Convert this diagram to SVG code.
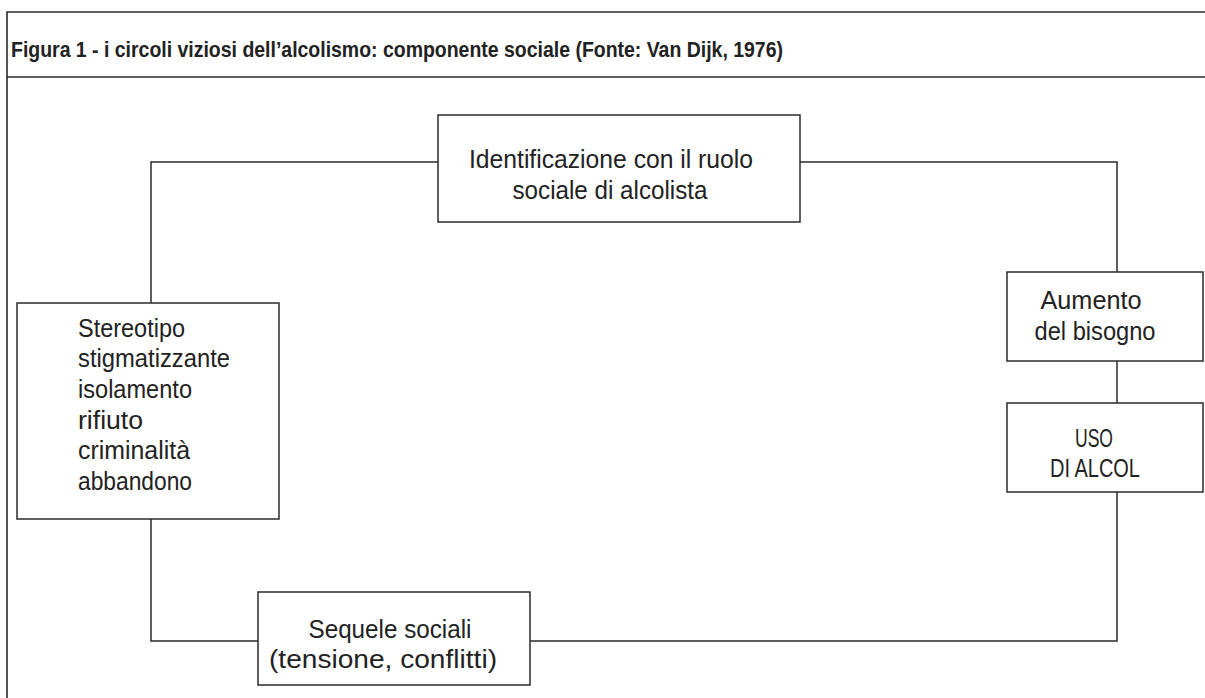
<svg xmlns="http://www.w3.org/2000/svg" width="1205" height="698" viewBox="0 0 1205 698">
<style>
.frame{fill:none;stroke:#2b2b2b;stroke-width:1.6}
.box{fill:#fff;stroke:#2b2b2b;stroke-width:1.5}
.conn{fill:none;stroke:#2b2b2b;stroke-width:1.5}
text{font-family:"Liberation Sans Narrow","Liberation Sans",Arial,sans-serif;fill:#222;font-size:26px}
.title{font-weight:bold;font-size:22px}
.c{text-anchor:middle}
</style>
<rect width="1205" height="698" fill="#fff"/>
<g id="frame">
<path class="frame" d="M1210,12 H7 V705 M7,77 H1210"/>
<text class="title" x="11" y="57" textLength="772" lengthAdjust="spacingAndGlyphs">Figura 1 - i circoli viziosi dell’alcolismo: componente sociale (Fonte: Van Dijk, 1976)</text>
</g>
<g id="connectors">
<path class="conn" d="M438,162 H151 V303"/>
<path class="conn" d="M800,162 H1117 V272"/>
<path class="conn" d="M1117,361 V403"/>
<path class="conn" d="M1117,492 V641 H530"/>
<path class="conn" d="M258,641 H151 V519"/>
</g>
<g id="identificazione">
<rect class="box" x="438" y="115" width="362" height="107"/>
<text class="c" x="611" y="168" textLength="284" lengthAdjust="spacingAndGlyphs">Identificazione con il ruolo</text>
<text class="c" x="610" y="199" textLength="195" lengthAdjust="spacingAndGlyphs">sociale di alcolista</text>
</g>
<g id="aumento">
<rect class="box" x="1007" y="272" width="196" height="89"/>
<text class="c" x="1091" y="309" textLength="101" lengthAdjust="spacingAndGlyphs">Aumento</text>
<text class="c" x="1095" y="340" textLength="121" lengthAdjust="spacingAndGlyphs">del bisogno</text>
</g>
<g id="uso">
<rect class="box" x="1007" y="403" width="196" height="89"/>
<text class="c" x="1094" y="447" textLength="38" lengthAdjust="spacingAndGlyphs">USO</text>
<text class="c" x="1095" y="477" textLength="90" lengthAdjust="spacingAndGlyphs">DI ALCOL</text>
</g>
<g id="sequele">
<rect class="box" x="258" y="592" width="272" height="93"/>
<text class="c" x="390" y="638" textLength="163" lengthAdjust="spacingAndGlyphs">Sequele sociali</text>
<text class="c" x="383" y="668" textLength="228" lengthAdjust="spacingAndGlyphs">(tensione, conflitti)</text>
</g>
<g id="stereotipo">
<rect class="box" x="17" y="303" width="262" height="216"/>
<text x="78" y="337" textLength="107" lengthAdjust="spacingAndGlyphs">Stereotipo</text>
<text x="78" y="367" textLength="152" lengthAdjust="spacingAndGlyphs">stigmatizzante</text>
<text x="78" y="398" textLength="114" lengthAdjust="spacingAndGlyphs">isolamento</text>
<text x="78" y="429" textLength="65" lengthAdjust="spacingAndGlyphs">rifiuto</text>
<text x="78" y="459" textLength="112" lengthAdjust="spacingAndGlyphs">criminalità</text>
<text x="78" y="490" textLength="114" lengthAdjust="spacingAndGlyphs">abbandono</text>
</g>
</svg>
